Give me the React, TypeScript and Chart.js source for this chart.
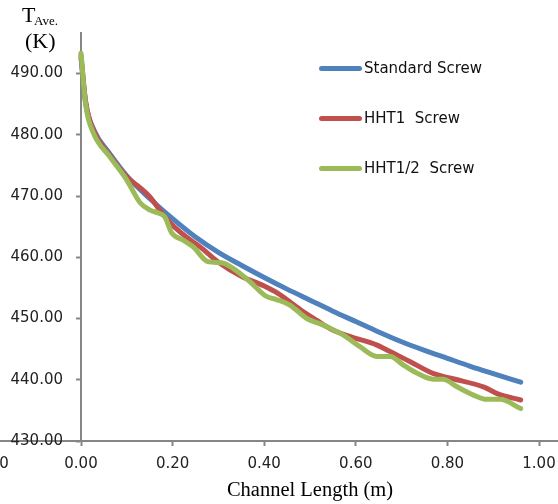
import React, { useEffect, useRef } from "react";
import { Chart, registerables } from "chart.js";

Chart.register(...registerables);

// Standard Screw
const stdX = [0, 0.01, 0.03, 0.06, 0.1, 0.15, 0.2, 0.25, 0.3, 0.35, 0.4, 0.45, 0.5, 0.55, 0.6, 0.65, 0.7, 0.75, 0.8, 0.85, 0.9, 0.96];
const stdT = [492.5, 485.3, 480.5, 477.2, 473.3, 469.6, 466.3, 463.3, 460.8, 458.7, 456.7, 454.8, 453.0, 451.2, 449.5, 447.8, 446.2, 444.8, 443.5, 442.2, 441.0, 439.6];

// HHT1 Screw
const hht1X = [0, 0.01, 0.03, 0.06, 0.1, 0.13, 0.15, 0.175, 0.195, 0.23, 0.26, 0.3, 0.35, 0.4, 0.43, 0.48, 0.515, 0.545, 0.59, 0.645, 0.675, 0.72, 0.77, 0.81, 0.88, 0.91, 0.96];
const hht1T = [493.0, 485.5, 480.3, 476.9, 473.1, 471.3, 469.9, 467.4, 465.6, 463.3, 461.7, 459.2, 456.9, 455.3, 454.1, 451.4, 449.7, 448.3, 447.0, 445.7, 444.6, 442.9, 441.0, 440.2, 438.8, 437.7, 436.7];

// HHT1/2 Screw
const hht12X = [0, 0.01, 0.027, 0.063, 0.1, 0.129, 0.151, 0.17, 0.183, 0.198, 0.223, 0.245, 0.277, 0.307, 0.332, 0.369, 0.405, 0.427, 0.456, 0.493, 0.52, 0.544, 0.573, 0.609, 0.646, 0.675, 0.704, 0.733, 0.769, 0.791, 0.82, 0.857, 0.886, 0.915, 0.96];
const hht12T = [493.3, 485.0, 480.3, 476.4, 472.6, 468.9, 467.7, 467.2, 466.6, 464.0, 462.8, 461.7, 459.3, 459.1, 458.2, 456.0, 453.6, 453.1, 452.2, 450.0, 449.2, 448.4, 447.3, 445.4, 443.8, 443.8, 442.4, 441.1, 440.1, 440.1, 438.9, 437.5, 436.8, 436.8, 435.3];

const seriesNames = ["Standard Screw", "HHT1  Screw", "HHT1/2  Screw"];
const seriesColors = ["#4F81BD", "#C0504D", "#9BBB59"];

const xMin = -0.2;
const xMax = 1.2;
const xStep = 0.2;
const yMin = 430;
const yMax = 496.67;
const yStep = 10;

const xTitle = "Channel Length (m)";

const GREY = "#868686";
const TICK_FONT = { family: "'DejaVu Sans', sans-serif", size: 15 };

const toPts = (xs: number[], ys: number[]) => xs.map((x, i) => ({ x, y: ys[i] }));
const fmt = (v: any) => {
  const n = Number(v);
  return (Math.abs(n) < 1e-9 ? 0 : n).toFixed(2);
};

// shifts the labels of the value-positioned y axis left of its tick marks
const yLabelShift = {
  id: "yLabelShift",
  beforeDraw(chart: any) {
    const s = chart.scales.y;
    if (!s) return;
    const items = s.getLabelItems(chart.chartArea);
    items.forEach((it: any) => {
      if (!it.__shifted) {
        it.options.translation[0] -= 18;
        it.__shifted = true;
      }
    });
  },
};

export default function App() {
  const ref = useRef<HTMLCanvasElement | null>(null);

  useEffect(() => {
    if (!ref.current) return;
    const all = [toPts(stdX, stdT), toPts(hht1X, hht1T), toPts(hht12X, hht12T)];
    const chart = new Chart(ref.current, {
      type: "line",
      data: {
        datasets: all.map((d, i) => ({
          label: seriesNames[i],
          data: d,
          borderColor: seriesColors[i],
          backgroundColor: seriesColors[i],
          borderWidth: 5,
          borderCapStyle: "round",
          borderJoinStyle: "round",
          pointRadius: 0,
          cubicInterpolationMode: "monotone",
          fill: false,
          order: 2 - i,
        })),
      },
      plugins: [yLabelShift],
      options: {
        animation: false,
        responsive: false,
        maintainAspectRatio: false,
        events: [],
        layout: { padding: { left: 29.4, right: 29.4, top: 32.7, bottom: 0 } },
        plugins: { legend: { display: false }, tooltip: { enabled: false } },
        scales: {
          x: {
            type: "linear",
            position: "bottom",
            min: xMin,
            max: xMax,
            afterFit: (s: any) => {
              s.height = 63;
            },
            ticks: {
              stepSize: xStep,
              callback: fmt,
              font: TICK_FONT,
              color: "#222",
              padding: 9,
              maxRotation: 0,
              autoSkip: false,
            },
            grid: {
              drawOnChartArea: false,
              drawTicks: true,
              tickLength: 5,
              tickWidth: 2,
              tickColor: GREY,
            },
            border: { color: GREY, width: 2 },
            title: {
              display: true,
              text: xTitle,
              color: "#000",
              font: { family: "'Liberation Serif', 'Times New Roman', serif", size: 20.5 },
              padding: { top: 0, bottom: 1 },
            },
          },
          y: {
            type: "linear",
            position: { x: 0 } as any,
            min: yMin,
            max: yMax,
            ticks: {
              stepSize: yStep,
              includeBounds: false,
              callback: fmt,
              font: TICK_FONT,
              color: "#222",
              padding: 14,
            },
            grid: {
              drawOnChartArea: false,
              drawTicks: true,
              tickLength: 4,
              tickWidth: 2,
              tickColor: GREY,
            },
            border: { color: GREY, width: 2 },
          },
        },
      } as any,
    });
    return () => chart.destroy();
  }, []);

  const legendTops = [61, 111, 161];

  return (
    <div
      style={{
        position: "fixed",
        left: 0,
        top: 0,
        width: 558,
        height: 504,
        overflow: "hidden",
        background: "#fff",
      }}
    >
      <canvas
        ref={ref}
        width={700}
        height={504}
        style={{ position: "absolute", left: -40, top: 0, width: 700, height: 504 }}
      />
      {/* Y axis title */}
      <div
        style={{
          position: "absolute",
          left: 22,
          top: 3.6,
          fontFamily: "'Liberation Serif', 'Times New Roman', serif",
          fontSize: 22,
          lineHeight: "22px",
          color: "#000",
          whiteSpace: "nowrap",
        }}
      >
        T
      </div>
      <div
        style={{
          position: "absolute",
          left: 34,
          top: 14,
          fontFamily: "'Liberation Serif', 'Times New Roman', serif",
          fontSize: 13,
          lineHeight: "13px",
          color: "#000",
          whiteSpace: "nowrap",
        }}
      >
        Ave.
      </div>
      <div
        style={{
          position: "absolute",
          left: 25,
          top: 29.6,
          fontFamily: "'Liberation Serif', 'Times New Roman', serif",
          fontSize: 22,
          lineHeight: "22px",
          color: "#000",
          whiteSpace: "nowrap",
        }}
      >
        (K)
      </div>
      {/* Legend */}
      {seriesNames.map((n, i) => (
        <div
          key={n}
          style={{
            position: "absolute",
            left: 319,
            top: legendTops[i],
            height: 14,
            display: "flex",
            alignItems: "center",
            whiteSpace: "pre",
          }}
        >
          <span
            style={{
              display: "inline-block",
              width: 43,
              height: 5,
              borderRadius: 2.5,
              background: seriesColors[i],
              marginRight: 2,
            }}
          />
          <span
            style={{
              fontFamily: "'DejaVu Sans', sans-serif",
              fontSize: 15,
              lineHeight: "14px",
              color: "#111",
            }}
          >
            {n}
          </span>
        </div>
      ))}
    </div>
  );
}
